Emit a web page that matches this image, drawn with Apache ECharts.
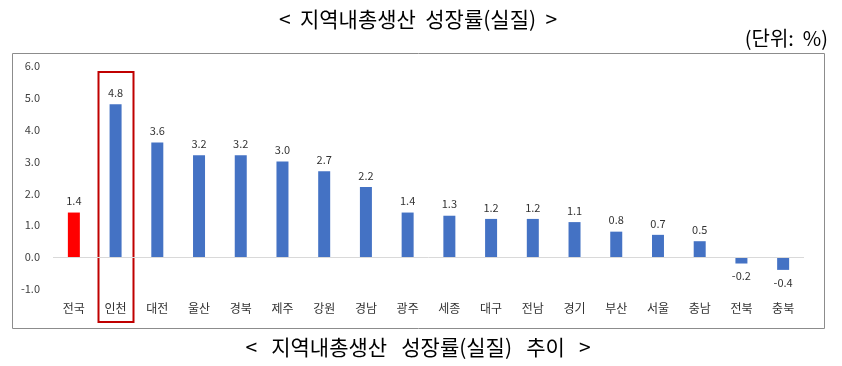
<!DOCTYPE html>
<html><head><meta charset="utf-8">
<script src="https://cdn.jsdelivr.net/npm/echarts@6/dist/echarts.min.js"></script>
<style>html,body{margin:0;padding:0;background:#fff}#c{width:842px;height:366px}</style>
</head><body><div id="c"></div>
<script>
const categories = ['전국','인천','대전','울산','경북','제주','강원','경남','광주','세종','대구','전남','경기','부산','서울','충남','전북','충북'];
const values = [1.4,4.8,3.6,3.2,3.2,3.0,2.7,2.2,1.4,1.3,1.2,1.2,1.1,0.8,0.7,0.5,-0.2,-0.4];
const highlightCategory = '인천';
const titleText = '<  지역내총생산  성장률(실질)  >';
const unitText = '(단위:  %)';
const captionText = '<   지역내총생산   성장률(실질)   추이   >';
const FONT = '"Noto Sans CJK KR", "Noto Sans", sans-serif';

const chart = echarts.init(document.getElementById('c'), null, {renderer:'canvas'});
const option = {
  animation:false,
  textStyle:{fontFamily:FONT},
  grid:{left:53, right:38, top:66, bottom:77, containLabel:false},
  xAxis:{type:'category', data:categories,
    axisLine:{show:false, onZero:false}, axisTick:{show:false},
    axisLabel:{color:'#333333', fontSize:12, margin:13, fontFamily:FONT, interval:0}},
  yAxis:{type:'value', min:-1, max:6, interval:1,
    axisLine:{show:false}, axisTick:{show:false}, splitLine:{show:false},
    axisLabel:{color:'#404040', fontSize:11, margin:13, fontFamily:FONT,
      formatter:v=>v.toFixed(1)}},
  series:[{type:'bar', barWidth:12,
    data:values.map((v,i)=>({value:v, itemStyle:{color: i===0 ? '#FF0000' : '#4472C4'},
      label:{position: v<0 ? 'bottom' : 'top', distance: v<0 ? 7 : 6}})),
    label:{show:true, color:'#333333', fontSize:11, fontFamily:FONT, formatter:p=>p.value.toFixed(1)},
    markLine:{silent:true, symbol:['none','none'], label:{show:false},
      lineStyle:{color:'#D9D9D9', type:'solid', width:1}, data:[{yAxis:0}]}
  }],
  graphic:[
    {type:'text', style:{x:418, y:19, text:titleText, font:'21px '+FONT, fill:'#000', textAlign:'center', textVerticalAlign:'middle'}},
    {type:'text', style:{x:828, y:38, text:unitText, font:'20px '+FONT, fill:'#000', textAlign:'right', textVerticalAlign:'middle'}},
    {type:'text', style:{x:418, y:347, text:captionText, font:'21px '+FONT, fill:'#000', textAlign:'center', textVerticalAlign:'middle'}},
    {type:'rect', shape:{x:12.5, y:53.5, width:812, height:275}, style:{fill:'none', stroke:'#8C8C8C', lineWidth:1}, silent:true}
  ]
};
chart.setOption(option);
const cx = chart.convertToPixel({xAxisIndex:0}, highlightCategory);
const yTop = chart.convertToPixel({yAxisIndex:0}, 5.8);
const yBot = chart.convertToPixel({yAxisIndex:0}, -2.05);
chart.setOption({graphic:option.graphic.concat([
  {type:'rect', shape:{x:Math.round(cx)-17.5, y:Math.round(yTop), width:35, height:Math.round(yBot-yTop)},
   style:{fill:'none', stroke:'#C00000', lineWidth:2}, silent:true}
])});
</script></body></html>
